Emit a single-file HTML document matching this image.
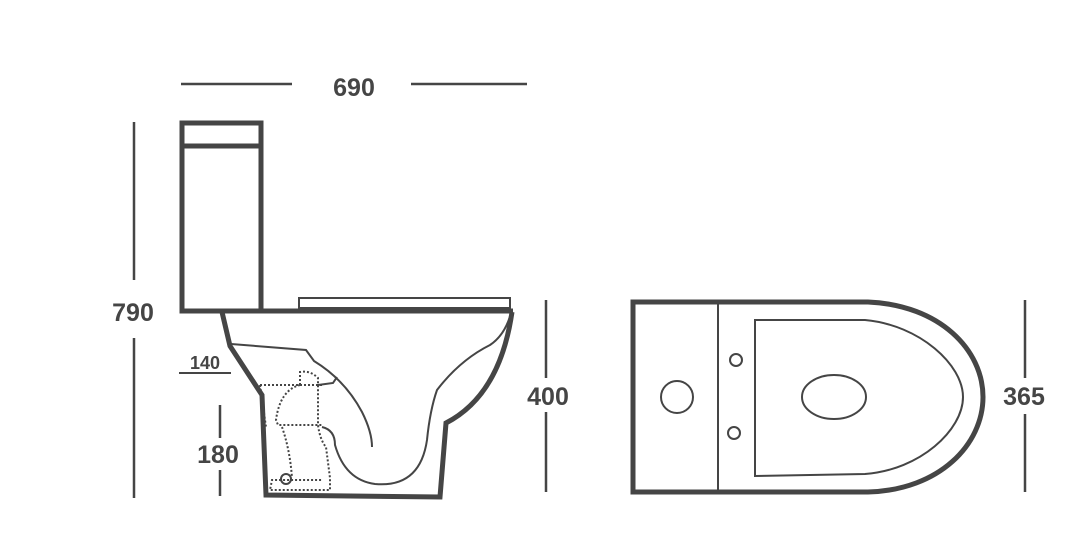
<!DOCTYPE html>
<html><head><style>body{margin:0;background:#fff}svg{display:block}</style></head><body>
<svg width="1080" height="547" viewBox="0 0 1080 547" xmlns="http://www.w3.org/2000/svg" font-family="Liberation Sans, sans-serif" fill="none" stroke="#454545">
<g stroke-width="2.5">
<line x1="181" y1="84" x2="292" y2="84"/><line x1="411" y1="84" x2="527" y2="84"/>
<line x1="134" y1="122" x2="134" y2="280"/><line x1="134" y1="338" x2="134" y2="498"/>
<line x1="220" y1="405" x2="220" y2="438"/><line x1="220" y1="470" x2="220" y2="496"/>
<line x1="179" y1="373" x2="231" y2="373" stroke-width="2"/>
<line x1="546" y1="300" x2="546" y2="378"/><line x1="546" y1="412" x2="546" y2="492"/>
<line x1="1025" y1="300" x2="1025" y2="378"/><line x1="1025" y1="414" x2="1025" y2="492"/>
</g>
<g fill="#454545" stroke="none" font-size="25" font-weight="bold" text-anchor="middle">
<text x="354" y="96">690</text>
<text x="133" y="321">790</text>
<text x="218" y="463">180</text>
<text x="548" y="405">400</text>
<text x="1024" y="405">365</text>
<text x="205" y="369" font-size="18">140</text>
</g>
<!-- tank -->
<rect x="182" y="123" width="79" height="188" stroke-width="5"/>
<line x1="182" y1="146" x2="261" y2="146" stroke-width="5"/>
<line x1="181" y1="311" x2="513" y2="311" stroke-width="5"/>
<rect x="299" y="298" width="211" height="10" stroke-width="2"/>
<!-- bowl outer -->
<path d="M222 312 L230 346 L262 395 L266 495 L440 497 L446 423 Q500 395 512 312" stroke-width="5"/>
<!-- inner -->
<path d="M231 344 L306 350 L314 361 Q345 380 362 412 Q372 432 372 447" stroke-width="2"/>
<path d="M318 385 L333 383 L337 377" stroke-width="2"/>
<path d="M322 427 Q335 430 335 445 Q345 480 375 484 Q420 488 427 440 Q430 410 437 390 Q460 360 490 345 Q505 335 511 313" stroke-width="2"/>
<g stroke-width="2" stroke-dasharray="2 2">
<path d="M260 385 L300 385 L322 385"/>
<path d="M300 385 Q280 390 276 420 L278 425 L322 425"/>
<path d="M300 385 L300 372 Q310 370 318 378 L318 425 Q320 440 326 447 L330 478 L330 490 L270 490 L272 480 L322 480"/>
<path d="M282 427 Q290 450 292 478"/>
<path d="M260 385 L266 427"/>
</g>
<circle cx="286" cy="479" r="5" stroke-width="2"/>
<!-- top view -->
<path d="M633 302 L868 302 C940 305 983 350 983 397 C983 444 940 490 868 492 L633 492 Z" stroke-width="5"/>
<line x1="718" y1="302" x2="718" y2="492" stroke-width="2"/>
<path d="M755 320 L865 320 C920 325 963 365 963 397 C963 430 920 470 865 474 L755 476 Z" stroke-width="2"/>
<circle cx="677" cy="397" r="16" stroke-width="2"/>
<circle cx="736" cy="360" r="6" stroke-width="2"/>
<circle cx="734" cy="433" r="6" stroke-width="2"/>
<ellipse cx="834" cy="397" rx="32" ry="22" stroke-width="2"/>
</svg>
</body></html>
